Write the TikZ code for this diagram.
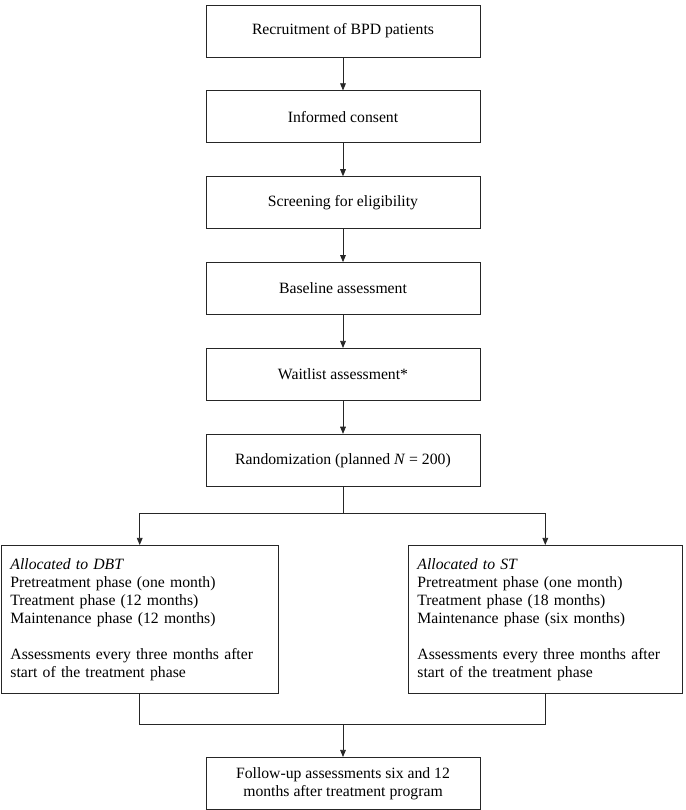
\documentclass[tikz,border=0pt]{standalone}
\usepackage{fontspec}
\setmainfont{Liberation Serif}
\usetikzlibrary{positioning}
\usetikzlibrary{arrows.meta}

\begin{document}
\begin{tikzpicture}[%
			x=0.7pt, y=-0.7pt,
			font=\fontsize{11}{12.6}\selectfont,
			node distance=23.1pt,
			line width=0.6pt,
			box/.style={draw=black!85, minimum width=191.8pt, minimum height=36.4pt, align=center, inner sep=2pt},
			arm/.style={draw=black!85, anchor=north west, minimum height=103.6pt, text width=181pt, inner xsep=6.3pt, align=left},
			link/.style={draw=black!85},
			flow/.style={link, -{Triangle[length=5pt, width=4pt]}}]
			\useasboundingbox (0,0) rectangle (685,810);
			\node[box] (recruit) at (343,31) {Recruitment of BPD patients};
			\node[box, below=of recruit] (consent) {Informed consent};
			\node[box, below=of consent] (screen) {Screening for eligibility};
			\node[box, below=of screen] (baseline) {Baseline assessment};
			\node[box, below=of baseline] (waitlist) {Waitlist assessment*};
			\node[box, below=of waitlist] (random) {Randomization (planned \textit{N} = 200)};
			\node[arm] (dbt) at (1,545) {\textit{Allocated to DBT}\\
				Pretreatment phase (one month)\\
				Treatment phase (12 months)\\
				Maintenance phase (12 months)\\[12.6pt]
				Assessments every three months after\\
				start of the treatment phase};
			\node[arm, text width=179pt] (st) at (408,545) {\textit{Allocated to ST}\\
				Pretreatment phase (one month)\\
				Treatment phase (18 months)\\
				Maintenance phase (six months)\\[12.6pt]
				Assessments every three months after\\
				start of the treatment phase};
			\coordinate (split) at (343,513);
			\coordinate (join) at (343,724);
			\node[box, below=of join] (followup) {Follow-up assessments six and 12\\months after treatment program};
			\path[flow] (recruit) -- (consent);
			\path[flow] (consent) -- (screen);
			\path[flow] (screen) -- (baseline);
			\path[flow] (baseline) -- (waitlist);
			\path[flow] (waitlist) -- (random);
			\path[link] (random) -- (split);
			\path[flow] (split) -| (dbt.north);
			\path[flow] (split) -| (st.north);
			\path[link] (dbt.south) |- (join);
			\path[link] (st.south) |- (join);
			\path[flow] (join) -- (followup);
	\end{tikzpicture}
\end{document}
